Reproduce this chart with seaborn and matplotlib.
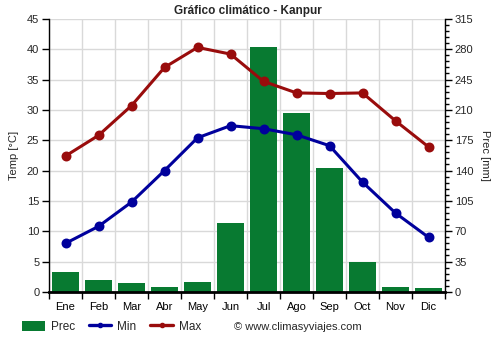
import matplotlib
matplotlib.use('Agg')
import matplotlib.pyplot as plt
import seaborn as sns
import pandas as pd
import numpy as np
from matplotlib.lines import Line2D
from matplotlib.patches import Patch
from matplotlib.ticker import MultipleLocator

meses = ['Ene', 'Feb', 'Mar', 'Abr', 'May', 'Jun', 'Jul', 'Ago', 'Sep', 'Oct', 'Nov', 'Dic']
prec = [23, 14, 10, 6, 11, 79, 282, 206, 143, 34, 6, 5]
tmin = [8.0, 10.8, 14.8, 20.0, 25.4, 27.4, 26.9, 25.9, 24.1, 18.1, 13.0, 9.0]
tmax = [22.4, 25.8, 30.7, 37.0, 40.3, 39.2, 34.7, 32.8, 32.7, 32.8, 28.2, 23.9]

GREEN = '#087a31'
RED = '#990c0c'
BLUE = '#00009c'
GRID = '#d9d9d9'

sns.set_theme(style='white')
plt.rcParams['font.family'] = ['Liberation Sans', 'DejaVu Sans']

df = pd.DataFrame({'mes': meses, 'prec': prec, 'tmin': tmin, 'tmax': tmax})

fig = plt.figure(figsize=(5, 3.5), dpi=100)
ax = fig.add_axes([0.098, 0.166, 0.792, 0.780])
sns.barplot(data=df, x='mes', y='prec', color=GREEN, saturation=1, width=0.8,
            linewidth=0, ax=ax, zorder=2)

ax2 = ax.twinx()
sns.pointplot(data=df, x='mes', y='tmin', color=BLUE, markers='o', ax=ax2,
              linewidth=2.2, markersize=5.5)
sns.pointplot(data=df, x='mes', y='tmax', color=RED, markers='o', ax=ax2,
              linewidth=2.2, markersize=5.5)

# axes placement: precipitation on the right, temperature on the left
ax.yaxis.tick_right()
ax.yaxis.set_label_position('right')
ax2.yaxis.tick_left()
ax2.yaxis.set_label_position('left')

ax.set_ylim(0, 315)
ax2.set_ylim(0, 45)
ax.set_xlim(-0.5, 11.5)
ax.yaxis.set_major_locator(MultipleLocator(35))
ax.yaxis.set_minor_locator(MultipleLocator(7))
ax2.yaxis.set_major_locator(MultipleLocator(5))

ax.set_xticks(np.arange(12))
ax.set_xticklabels(meses)
ax.set_xticks(np.arange(-0.5, 12, 1), minor=True)

ax.set_axisbelow(True)
ax.grid(False)
ax.grid(True, which='major', axis='y', color=GRID, lw=1)
ax.grid(True, which='minor', axis='x', color=GRID, lw=1)
ax2.grid(False)

for s in ['top', 'left']:
    ax.spines[s].set_visible(False)
ax.spines['right'].set_color('black')
ax.spines['right'].set_linewidth(1)
ax.spines['bottom'].set_color('black')
ax.spines['bottom'].set_linewidth(2)
for s in ['top', 'right', 'bottom']:
    ax2.spines[s].set_visible(False)
ax2.spines['left'].set_color('black')
ax2.spines['left'].set_linewidth(1)

ax.tick_params(axis='x', which='major', length=0, labelsize=8, pad=7, colors='black')
ax.tick_params(axis='x', which='minor', length=5, width=1, direction='out', color='black', bottom=True)
ax.tick_params(axis='y', which='major', length=5, width=1, direction='out', labelsize=8,
               right=True, left=False, color='black', pad=2)
ax.tick_params(axis='y', which='minor', length=3, width=1, direction='out',
               right=True, left=False, color='black')
ax2.tick_params(axis='y', which='major', length=5, width=1, direction='out', labelsize=8,
                left=True, right=False, color='black', pad=2)

ax.set_xlabel('')
ax2.set_xlabel('')
ax.set_ylabel('Prec [mm]', fontsize=8, rotation=270, labelpad=12)
ax2.set_ylabel('Temp [°C]', fontsize=8, labelpad=6)

fig.text(0.496, 0.969, 'Gráfico climático - Kanpur', ha='center', va='center',
         fontsize=8.5, fontweight='bold')

handles = [Patch(facecolor=GREEN, edgecolor='none', label='Prec'),
           Line2D([], [], color=BLUE, lw=2.4, marker='o', markersize=3, label='Min'),
           Line2D([], [], color=RED, lw=2.4, marker='o', markersize=3, label='Max')]
fig.legend(handles=handles, loc='center left', bbox_to_anchor=(0.035, 0.066), ncol=3,
           frameon=False, fontsize=8.5, handlelength=1.9, handleheight=0.9,
           columnspacing=1.2, handletextpad=0.5, borderaxespad=0)
fig.text(0.468, 0.066, '© www.climasyviajes.com', ha='left', va='center', fontsize=8)

fig.savefig('out.png', dpi=100)
